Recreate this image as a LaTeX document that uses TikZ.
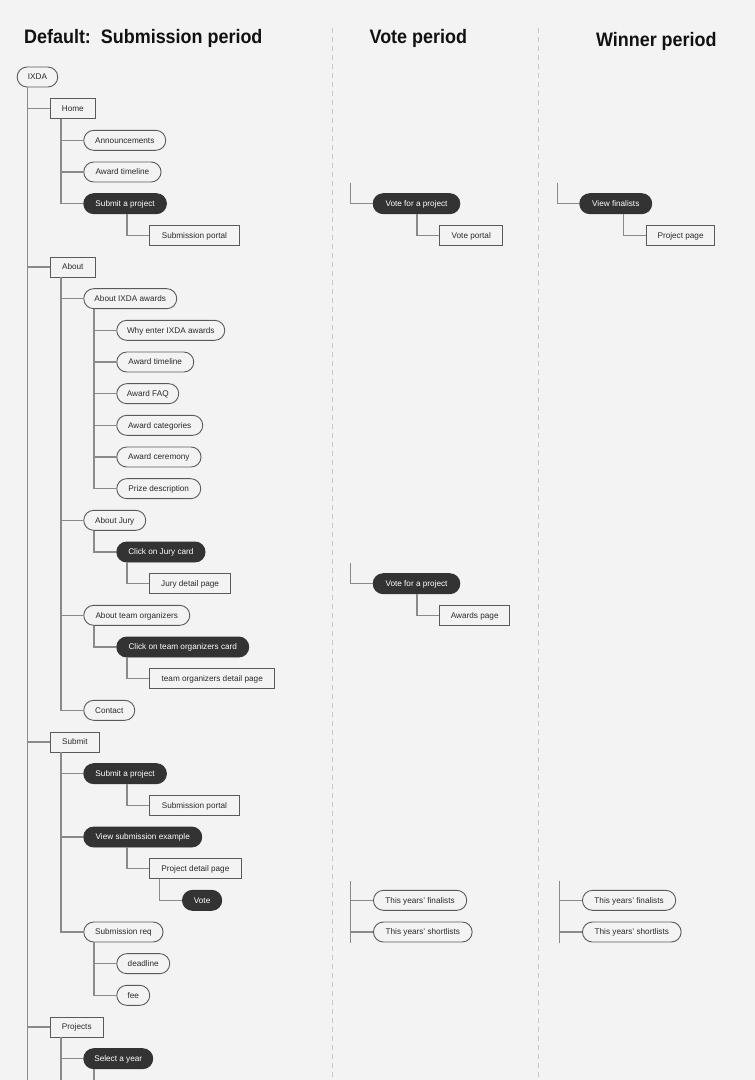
\documentclass[tikz,border=0pt]{standalone}
\usepackage{fontspec}
\usepackage{graphicx}
\setmainfont{Liberation Sans}
\definecolor{bgc}{HTML}{F3F3F3}
\definecolor{linec}{HTML}{8A8A8A}
\definecolor{bordc}{HTML}{5A5A5A}
\definecolor{darkc}{HTML}{333333}
\definecolor{txtc}{HTML}{2A2A2A}
\definecolor{dashc}{HTML}{C8C8C8}
\definecolor{titc}{HTML}{111111}
\tikzset{
  nodebase/.style={anchor=west, minimum height=20pt, inner sep=0pt, line width=0.9pt,
    text height=7pt, text depth=1.2pt, font=\fontsize{8.2}{9}\selectfont, align=center},
  pill/.style={nodebase, draw=bordc, fill=bgc, text=txtc, rounded corners=10pt},
  boxn/.style={nodebase, draw=bordc, fill=bgc, text=txtc},
  darkp/.style={nodebase, draw=darkc, fill=darkc, text=white, rounded corners=10pt},
  conn/.style={draw=linec, line width=1.2pt},
  sepline/.style={draw=dashc, line width=1pt, dash pattern=on 5pt off 4pt},
  titlen/.style={inner sep=0pt, text=titc, font=\fontsize{19.5}{22}\selectfont\bfseries}
}
\newcommand{\lnk}[3]{\draw[conn] ([xshift=#3]#1.south west) |- (#2.west);}
\begin{document}
\begin{tikzpicture}[x=1pt,y=-1pt]
\fill[bgc] (0,0) rectangle (755,1080);
\useasboundingbox (0,0) rectangle (755,1080);
% separators
\coordinate (d1a) at (332,28);
\coordinate (d1b) at (332,1080);
\coordinate (d2a) at (538.7,28);
\coordinate (d2b) at (538.7,1080);
\draw[sepline] (d1a) -- (d1b);
\draw[sepline] (d2a) -- (d2b);
% titles
\node[titlen, anchor=base west] (t1) at (24,43.3) {\scalebox{0.92}[1]{Default:\ \ Submission period}};
\node[titlen, anchor=base] (t2) at (418.3,43.3) {\scalebox{0.92}[1]{Vote period}};
\node[titlen, anchor=base] (t3) at (656.3,46.7) {\scalebox{0.92}[1]{Winner period}};
% column 1 nodes
\node[pill, minimum width=40.6pt] (ixda) at (16.7,77) {IXDA};
\node[boxn, minimum width=44.7pt] (home) at (50,108.67) {Home};
\node[pill, minimum width=82pt] (ann) at (83.3,140.33) {Announcements};
\node[pill, minimum width=77.3pt] (atl) at (83.3,172) {Award timeline};
\node[darkp, minimum width=82.7pt] (sub1) at (83.3,203.67) {Submit a project};
\node[boxn, minimum width=89.3pt] (sp1) at (149.3,235.33) {Submission portal};
\node[boxn, minimum width=44.7pt] (about) at (50,267) {About};
\node[pill, minimum width=93pt] (aia) at (83.3,298.67) {About IXDA awards};
\node[pill, minimum width=108pt] (why) at (116.3,330.33) {Why enter IXDA awards};
\node[pill, minimum width=77pt] (atl2) at (116.3,362) {Award timeline};
\node[pill, minimum width=62pt] (faq) at (116.3,393.67) {Award FAQ};
\node[pill, minimum width=86pt] (cat) at (116.3,425.33) {Award categories};
\node[pill, minimum width=84.3pt] (cer) at (116.3,457) {Award ceremony};
\node[pill, minimum width=84pt] (prz) at (116.3,488.67) {Prize description};
\node[pill, minimum width=62pt] (jury) at (83.3,520.33) {About Jury};
\node[darkp, minimum width=88.3pt] (cjc) at (116.3,552) {Click on Jury card};
\node[boxn, minimum width=80.7pt] (jdp) at (149.3,583.67) {Jury detail page};
\node[pill, minimum width=106pt] (ato) at (83.3,615.33) {About team organizers};
\node[darkp, minimum width=132pt] (cto) at (116.3,647) {Click on team organizers card};
\node[boxn, minimum width=125pt] (tdp) at (149.3,678.67) {team organizers detail page};
\node[pill, minimum width=51pt] (cont) at (83.3,710.33) {Contact};
\node[boxn, minimum width=48.7pt] (submit) at (50,742) {Submit};
\node[darkp, minimum width=82.7pt] (sub2) at (83.3,773.67) {Submit a project};
\node[boxn, minimum width=89.3pt] (sp2) at (149.3,805.33) {Submission portal};
\node[darkp, minimum width=118pt] (vse) at (83.3,837) {View submission example};
\node[boxn, minimum width=91.3pt] (pdp) at (149.3,868.67) {Project detail page};
\node[darkp, minimum width=39.3pt] (vote) at (182,900.33) {Vote};
\node[pill, minimum width=79.3pt] (sreq) at (83.3,932) {Submission req};
\node[pill, minimum width=53pt] (dl) at (116.3,963.67) {deadline};
\node[pill, minimum width=33pt] (fee) at (116.3,995.33) {fee};
\node[boxn, minimum width=52.7pt] (proj) at (50,1027) {Projects};
\node[darkp, minimum width=69pt] (year) at (83.3,1058.67) {Select a year};
% column 1 links
\lnk{ixda}{home}{11}
\lnk{ixda}{about}{11}
\lnk{ixda}{submit}{11}
\lnk{ixda}{proj}{11}
\lnk{home}{ann}{11}
\lnk{home}{atl}{11}
\lnk{home}{sub1}{11}
\lnk{sub1}{sp1}{43.7}
\lnk{about}{aia}{11}
\lnk{about}{jury}{11}
\lnk{about}{ato}{11}
\lnk{about}{cont}{11}
\lnk{aia}{why}{10.7}
\lnk{aia}{atl2}{10.7}
\lnk{aia}{faq}{10.7}
\lnk{aia}{cat}{10.7}
\lnk{aia}{cer}{10.7}
\lnk{aia}{prz}{10.7}
\lnk{jury}{cjc}{10.7}
\lnk{cjc}{jdp}{10.7}
\lnk{ato}{cto}{10.7}
\lnk{cto}{tdp}{10.7}
\lnk{submit}{sub2}{11}
\lnk{submit}{vse}{11}
\lnk{submit}{sreq}{11}
\lnk{sub2}{sp2}{43.7}
\lnk{vse}{pdp}{43.7}
\lnk{pdp}{vote}{10.4}
\lnk{sreq}{dl}{10.7}
\lnk{sreq}{fee}{10.7}
\lnk{proj}{year}{11}
% trunk extensions to the bottom edge
\coordinate (e0) at (27.7,1080);
\coordinate (e1) at (61,1080);
\coordinate (e2) at (94,1080);
\draw[conn] (proj.west -| e0) -- (e0);
\draw[conn] (year.west -| e1) -- (e1);
\draw[conn] (year.south -| e2) -- (e2);
% column 2
\node[darkp, minimum width=86.7pt] (vfp1) at (372.7,203.67) {Vote for a project};
\node[boxn, minimum width=63pt] (vp) at (439.3,235.33) {Vote portal};
\node[darkp, minimum width=86.7pt] (vfp2) at (372.7,583.67) {Vote for a project};
\node[boxn, minimum width=70pt] (ap) at (439.3,615.33) {Awards page};
\node[pill, minimum width=93.3pt] (fin2) at (373,900.33) {This years’ finalists};
\node[pill, minimum width=98.7pt] (sho2) at (373,932) {This years’ shortlists};
\coordinate (s1) at (350.7,182.7);
\coordinate (s2) at (350.7,563.3);
\coordinate (s3) at (350.7,881);
\coordinate (s3e) at (350.7,943);
\draw[conn] (s1) |- (vfp1.west);
\lnk{vfp1}{vp}{44.3}
\draw[conn] (s2) |- (vfp2.west);
\lnk{vfp2}{ap}{44.3}
\draw[conn] (s3) |- (fin2.west);
\draw[conn] (s3) |- (sho2.west);
\draw[conn] (sho2.west -| s3) -- (s3e);
% column 3
\node[darkp, minimum width=72pt] (vf) at (579.3,203.67) {View finalists};
\node[boxn, minimum width=68.3pt] (pp) at (646,235.33) {Project page};
\node[pill, minimum width=93.3pt] (fin3) at (582,900.33) {This years’ finalists};
\node[pill, minimum width=98.7pt] (sho3) at (582,932) {This years’ shortlists};
\coordinate (w1) at (557.3,182.7);
\coordinate (w3) at (559.7,881);
\coordinate (w3e) at (559.7,943);
\draw[conn] (w1) |- (vf.west);
\lnk{vf}{pp}{44.4}
\draw[conn] (w3) |- (fin3.west);
\draw[conn] (w3) |- (sho3.west);
\draw[conn] (sho3.west -| w3) -- (w3e);
\end{tikzpicture}
\end{document}
